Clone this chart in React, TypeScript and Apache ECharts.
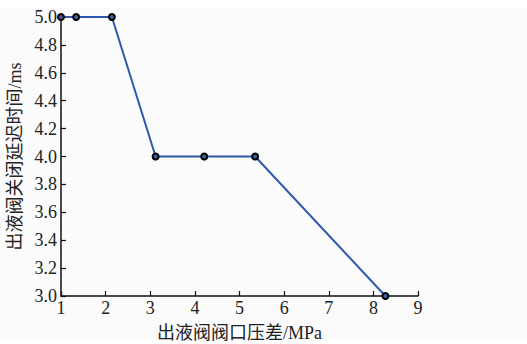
import React, { useEffect, useRef } from "react";
import * as echarts from "echarts";

// Outlet valve pressure difference (MPa) vs. closing delay (ms)
const pressureDiff = [1.0, 1.34, 2.14, 3.12, 4.21, 5.35, 8.27];
const delayMs = [5.0, 5.0, 5.0, 4.0, 4.0, 4.0, 3.0];

const xTitle = "出液阀阀口压差/MPa";
const yTitle = "出液阀关闭延迟时间/ms";

const FONT = "'Liberation Serif', 'Noto Sans CJK SC', serif";

export default function App() {
  const ref = useRef<HTMLDivElement>(null);

  useEffect(() => {
    if (!ref.current) return;
    document.body.style.margin = "0";
    const chart = echarts.init(ref.current, null, { renderer: "svg" });
    chart.setOption({
      animation: false,
      backgroundColor: "#ffffff",
      graphic: [
        {
          type: "rect",
          z: -10,
          silent: true,
          shape: { x: 0, y: 8, width: 527, height: 333 },
          style: { fill: "#fbfbfb" },
        },
      ],
      grid: { left: 61, right: 109, top: 17, bottom: 48, outerBoundsMode: "none", containLabel: false },
      xAxis: {
        type: "value",
        min: 1,
        max: 9,
        interval: 1,
        name: xTitle,
        nameLocation: "middle",
        nameGap: 28,
        nameTextStyle: { fontFamily: FONT, fontSize: 18, color: "#222" },
        axisLine: { lineStyle: { color: "#111", width: 1.5 } },
        axisTick: { inside: true, length: 5, lineStyle: { color: "#111", width: 1.2 } },
        axisLabel: { fontFamily: FONT, fontSize: 18, color: "#222", margin: 3 },
        splitLine: { show: false },
      },
      yAxis: {
        type: "value",
        min: 3.0,
        max: 5.0,
        interval: 0.2,
        name: yTitle,
        nameLocation: "middle",
        nameGap: 37,
        nameTextStyle: { fontFamily: FONT, fontSize: 18, color: "#222" },
        axisLine: { show: true, lineStyle: { color: "#111", width: 1.5 } },
        axisTick: { show: true, inside: true, length: 5, lineStyle: { color: "#111", width: 1.2 } },
        axisLabel: {
          fontFamily: FONT,
          fontSize: 18,
          color: "#222",
          margin: 4,
          formatter: (v: number) => v.toFixed(1),
        },
        splitLine: { show: false },
      },
      series: [
        {
          type: "line",
          data: pressureDiff.map((x, i) => [x, delayMs[i]]),
          lineStyle: { color: "#2d58ad", width: 2 },
          symbol: "circle",
          symbolSize: 6,
          itemStyle: { color: "#3a5f9a", borderColor: "#000", borderWidth: 2 },
          clip: false,
        },
      ],
    });
    return () => chart.dispose();
  }, []);

  return (
    <div
      ref={ref}
      style={{ position: "absolute", left: 0, top: 0, width: 527, height: 344 }}
    />
  );
}
